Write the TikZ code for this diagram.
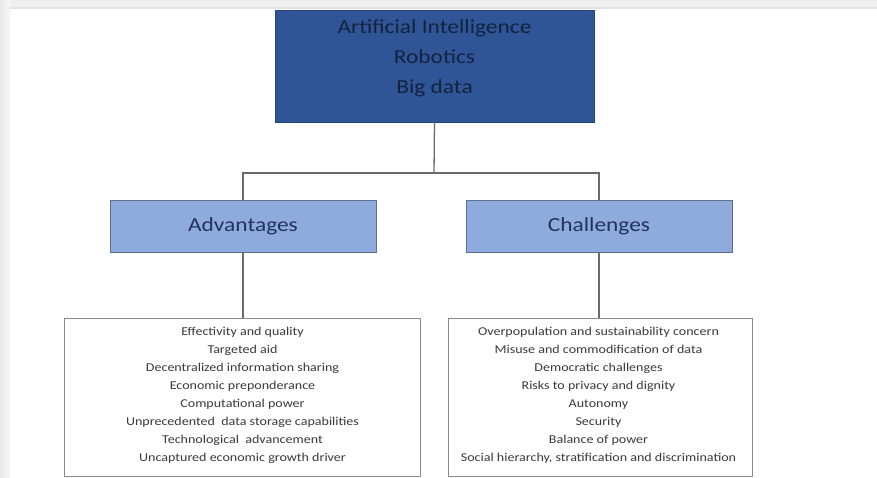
\documentclass[tikz,border=0pt]{standalone}
\usepackage{fontspec}
\setmainfont{Carlito}[FakeStretch=1.17]
\begin{document}
\begin{tikzpicture}[x=1pt,y=-1pt,
  conn/.style={draw=linegrey,line width=1.3pt},
  headbox/.style={draw=headedge,fill=headfill,line width=0.9pt,inner sep=0pt},
  catbox/.style={draw=catedge,fill=catfill,line width=0.9pt,inner sep=0pt,
    minimum width=266pt,minimum height=52pt,text=cattext,
    font=\fontsize{20}{24}\selectfont},
  listbox/.style={draw=listedge,fill=white,line width=0.9pt,inner sep=0pt},
  listtext/.style={align=center,text=listtextc,inner sep=0pt,
    font=\fontsize{12}{17.9}\selectfont}]
\definecolor{headfill}{HTML}{2F5597}
\definecolor{headedge}{HTML}{24457D}
\definecolor{headtext}{HTML}{14223F}
\definecolor{catfill}{HTML}{8FAADC}
\definecolor{catedge}{HTML}{5F6F8C}
\definecolor{cattext}{HTML}{1F3460}
\definecolor{listedge}{HTML}{8A8A8A}
\definecolor{listtextc}{HTML}{3A3A3A}
\definecolor{linegrey}{HTML}{6A6A6A}
\definecolor{bandgrey}{HTML}{EFEFEF}
\definecolor{bandline}{HTML}{E3E3E3}

% page and frame bands
\useasboundingbox (0,0) rectangle (877,477);
\fill[white] (0,0) rectangle (877,477);
\fill[bandgrey] (0,0) rectangle (877,8);
\draw[bandline,line width=1.5pt] (10,8) -- (877,8);
\shade[left color=black!9,right color=black!3] (0,0) rectangle (10,477);

% top block
\node[headbox,minimum width=319pt,minimum height=112pt] (top) at (434.5,66) {};
\node[align=center,text=headtext,inner sep=0pt,
  font=\fontsize{20}{30}\selectfont] (toptext) at (434.5,58.5)
  {Artificial Intelligence\\Robotics\\Big data};

% categories
\node[catbox] (adv) at (243,226) {Advantages};
\node[catbox] (chal) at (599,226) {Challenges};

% lists
\node[listbox,minimum width=356pt,minimum height=158pt] (advlist) at (242,397.5) {};
\node[listtext] (advtext) at (242.5,395.4)
  {Effectivity and quality\\
   Targeted aid\\
   Decentralized information sharing\\
   Economic preponderance\\
   Computational power\\
   Unprecedented\ \ data storage capabilities\\
   Technological\ \ advancement\\
   Uncaptured economic growth driver};
\node[listbox,minimum width=304pt,minimum height=158pt] (challist) at (600,397.5) {};
\node[listtext] (chaltext) at (598.5,395.4)
  {Overpopulation and sustainability concern\\
   Misuse and commodification of data\\
   Democratic challenges\\
   Risks to privacy and dignity\\
   Autonomy\\
   Security\\
   Balance of power\\
   Social hierarchy, stratification and discrimination};

% connectors
\coordinate (split) at (434,173);
\draw[conn] (top.south) -- (split);
\draw[conn] (adv.north) |- (split) -| (chal.north);
\draw[conn] (adv.south) -- (adv.south |- advlist.north);
\draw[conn] (chal.south) -- (chal.south |- challist.north);
\end{tikzpicture}
\end{document}
